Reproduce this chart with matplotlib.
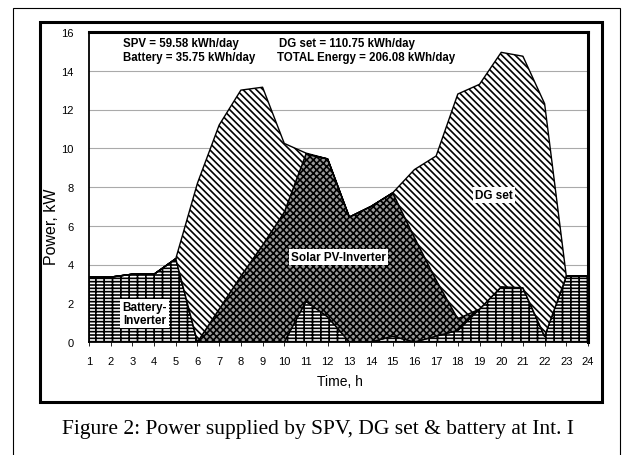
import matplotlib
matplotlib.use("Agg")
import matplotlib.pyplot as plt
from matplotlib.patches import Rectangle
import numpy as np

plt.rcParams['font.family'] = ['Liberation Sans', 'DejaVu Sans']
plt.rcParams['hatch.linewidth'] = 1.2

# hourly power, kW (stacked: battery, then solar, then DG set)
hours = list(range(1, 25))
battery = [3.35, 3.35, 3.5, 3.5, 4.3, 0, 0, 0, 0, 0, 2.1, 1.3,
           0, 0, 0.3, 0, 0.3, 0.6, 1.7, 2.85, 2.8, 0.3, 3.4, 3.4]
solar = [0, 0, 0, 0, 0, 0, 1.7, 3.4, 5.0, 6.7, 7.6, 8.15,
         6.45, 7.0, 7.4, 5.4, 2.9, 0.6, 0, 0, 0, 0, 0, 0]
dg_set = [0, 0, 0, 0, 0, 8.2, 9.5, 9.6, 8.15, 3.55, 0.05, 0,
          0, 0, 0, 3.5, 6.4, 11.6, 11.6, 12.1, 11.95, 12.0, 0, 0]

energy_lines = ["SPV = 59.58 kWh/day", "Battery = 35.75 kWh/day",
                "DG set = 110.75 kWh/day", "TOTAL Energy = 206.08 kWh/day"]
caption = "Figure 2: Power supplied by SPV, DG set & battery at Int. I"

W, H = 622, 456
fig = plt.figure(figsize=(W / 100, H / 100), dpi=100)
ax = fig.add_axes([89 / W, 1 - 343 / H, (588 - 89) / W, (343 - 33) / H])

x = np.array(hours)
b = np.array(battery)
s = b + np.array(solar)
t = s + np.array(dg_set)

ax.fill_between(x, 0, b, facecolor='white', edgecolor='black',
                hatch='-----||', linewidth=1.0)
ax.fill_between(x, b, s, facecolor='#9a9a9a', edgecolor='black',
                hatch='xxxxx', linewidth=1.0)
ax.fill_between(x, s, t, facecolor='white', edgecolor='black',
                hatch='\\' * 5, linewidth=1.0)

ax.set_xlim(1, 24)
ax.set_ylim(0, 16)
ax.set_xticks(hours)
ax.set_yticks(range(0, 17, 2))
ax.yaxis.grid(True, color='#aaaaaa', linewidth=0.8)
ax.set_axisbelow(True)
ax.tick_params(axis='x', length=3, width=0.6, labelsize=8, pad=7, direction='out')
ax.tick_params(axis='y', length=0, labelsize=8, pad=11)

for side in ['left', 'bottom']:
    ax.spines[side].set_linewidth(1.3)
for side in ['top', 'right']:
    ax.spines[side].set_linewidth(2.2)

fig.text(52 / W, 1 - 227 / H, "Power, kW", rotation=90, fontsize=11.5,
         ha='center', va='center')
fig.text(340 / W, 1 - 382 / H, "Time, h", fontsize=10, ha='center', va='center')

box = dict(facecolor='white', edgecolor='none', pad=1.5)
ax.text(3.55, 1.45, "Battery-\nInverter", fontsize=8.5, fontweight='bold',
        ha='center', va='center', bbox=box, linespacing=1.1)
ax.text(12.5, 4.4, "Solar PV-Inverter", fontsize=8.5, fontweight='bold',
        ha='center', va='center', bbox=box)
ax.text(19.65, 7.6, "DG set", fontsize=8.5, fontweight='bold',
        ha='center', va='center', bbox=box)

fig.text(123 / W, 1 - 44 / H, energy_lines[0], fontsize=8.3, fontweight='bold', va='center')
fig.text(123 / W, 1 - 58 / H, energy_lines[1], fontsize=8.3, fontweight='bold', va='center')
fig.text(279 / W, 1 - 44 / H, energy_lines[2], fontsize=8.3, fontweight='bold', va='center')
fig.text(277 / W, 1 - 58 / H, energy_lines[3], fontsize=8.3, fontweight='bold', va='center')

# frames: outer thin box and the chart area box
fig.add_artist(Rectangle((13 / W, 1 - 470 / H), (620 - 13) / W, (470 - 9) / H,
                         transform=fig.transFigure, fill=False, lw=0.8, ec='black'))
fig.add_artist(Rectangle((40 / W, 1 - 403 / H), (602 - 40) / W, (403 - 23) / H,
                         transform=fig.transFigure, fill=False, lw=2.2, ec='black'))

fig.text(318 / W, 1 - 430 / H, caption, fontsize=15.5,
         family=['Liberation Serif', 'DejaVu Serif'], ha='center', va='center')

fig.savefig("out.png", dpi=100)
